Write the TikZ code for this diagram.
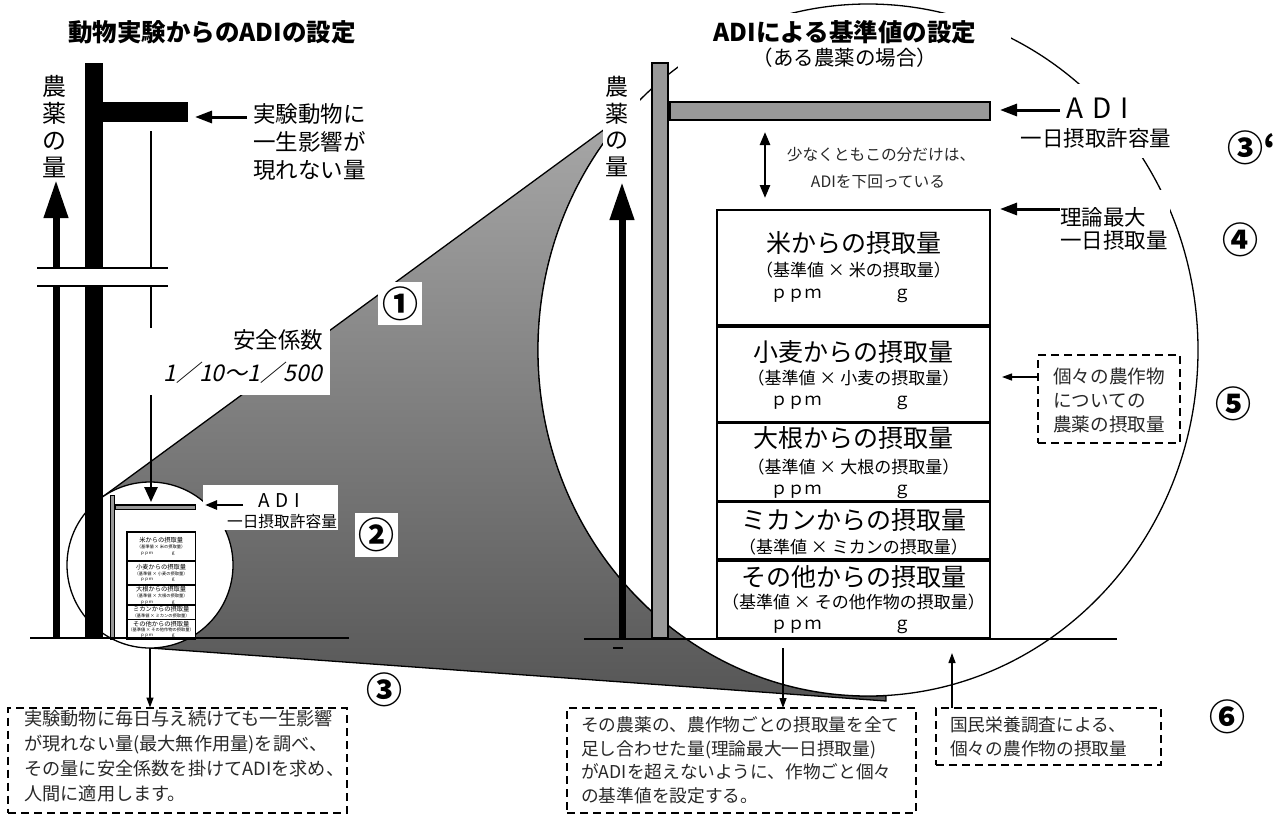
\documentclass[tikz,border=0pt]{standalone}
\usepackage{fontspec}
\setmainfont{Noto Sans CJK JP}
\newfontfamily\jpit{Noto Sans CJK JP}[FakeSlant=0.22]
\usetikzlibrary{arrows.meta,shapes.geometric}
\newcommand{\fsz}[2]{\fontsize{#1pt}{#2pt}\selectfont}
\definecolor{poleg}{RGB}{153,153,153}
\definecolor{shtop}{RGB}{168,168,168}
\definecolor{shbot}{RGB}{86,86,86}
\definecolor{seriftxt}{RGB}{40,40,40}
\tikzset{
  gfill/.style={fill=poleg, draw=black, line width=1.2pt, inner sep=0pt, outer sep=0pt},
  rowbox/.style={draw, line width=1.4pt, fill=white, minimum width=273pt, inner sep=0pt, outer sep=0pt},
  rtitle/.style={font=\fsz{25}{30}, inner sep=0pt},
  rparen/.style={font=\fsz{17}{20}, inner sep=0pt},
  rppm/.style={font=\fsz{17}{20}, inner sep=0pt},
  dbox/.style={draw, line width=2pt, dash pattern=on 8pt off 5pt, inner sep=0pt, outer sep=0pt},
  bigarrow/.style={line width=7pt, -{Triangle[length=38pt,width=23pt]}},
  lblarrow/.style={line width=3pt, -{Triangle[length=17pt,width=12pt]}},
  thinarrow/.style={line width=1.3pt, -{Triangle[length=10pt,width=7pt]}},
  circnum/.style={font=\bfseries\fsz{36}{38}, inner sep=0pt},
  solidbar/.style={fill=black, inner sep=0pt, outer sep=0pt},
}
\newcommand{\adichart}{%
  \node[gfill, minimum width=16pt, minimum height=575pt] (pole) at (660,350.5) {};
  \node[gfill, minimum width=320pt, minimum height=18pt] (adibar) at (830,111) {};
  \node[rowbox, minimum height=115pt] (rice) at (853.5,267.5) {};
  \node[rowbox, minimum height=95pt] (wheat) at (853.5,374.5) {};
  \node[rowbox, minimum height=78pt] (daikon) at (853.5,462) {};
  \node[rowbox, minimum height=57pt] (mikan) at (853.5,530.5) {};
  \node[rowbox, minimum height=77pt] (other) at (853.5,599.5) {};
  \node[rtitle] (riceT) at (853.5,243) {米からの摂取量};
  \node[rparen] (riceP) at (853.5,270) {（基準値 × 米の摂取量）};
  \node[rppm] (riceU) at (796,296) {ｐｐｍ};
  \node[rppm] (riceG) at (902,296) {ｇ};
  \node[rtitle] (wheatT) at (853.5,352) {小麦からの摂取量};
  \node[rparen] (wheatP) at (853.5,378) {（基準値 × 小麦の摂取量）};
  \node[rppm] (wheatU) at (796,403) {ｐｐｍ};
  \node[rppm] (wheatG) at (902,403) {ｇ};
  \node[rtitle] (daikonT) at (853.5,438) {大根からの摂取量};
  \node[rparen] (daikonP) at (853.5,467) {（基準値 × 大根の摂取量）};
  \node[rppm] (daikonU) at (796,492) {ｐｐｍ};
  \node[rppm] (daikonG) at (902,492) {ｇ};
  \node[rtitle] (mikanT) at (853.5,520) {ミカンからの摂取量};
  \node[rparen] (mikanP) at (853.5,547) {（基準値 × ミカンの摂取量）};
  \node[rtitle] (otherT) at (853.5,577) {その他からの摂取量};
  \node[rparen] (otherP) at (853.5,602) {（基準値 × その他作物の摂取量）};
  \node[rppm] (otherU) at (796,627) {ｐｐｍ};
  \node[rppm] (otherG) at (902,627) {ｇ};
}
\begin{document}
\begin{tikzpicture}[x=1pt,y=-1pt]
\useasboundingbox (0,0) rectangle (1279,814);

% shaded cone
\path[draw=black, line width=1.3pt, top color=shtop, bottom color=shbot]
  (101,498) -- plot[domain=223.7:86.9, samples=80] ({868+330*cos(\x)},{350+346*sin(\x)})
  -- (886,701) -- (150,648) -- cycle;

% circles
\node[circle, draw, line width=1.3pt, fill=white, minimum size=166pt, inner sep=0pt, outer sep=0pt] (smallc) at (150,565) {};
\node[ellipse, draw, line width=1.3pt, fill=white, minimum width=660pt, minimum height=692pt, inner sep=0pt, outer sep=0pt] (bigc) at (868,350) {};

% white backings
\fill[white] (678,13) rectangle (1011,68);
\fill[white] (603,74) rectangle (640,180);
\fill[white] (1015,84) rectangle (1176,158);
\fill[white] (1055,190) rectangle (1170,252);
\fill[white] (203,485) rectangle (338,530);

% titles
\node[font=\bfseries\fsz{24.5}{28}, inner sep=0pt] (titleL) at (212,32) {動物実験からのADIの設定};
\node[font=\bfseries\fsz{24.5}{28}, inner sep=0pt] (titleR) at (845,32) {ADIによる基準値の設定};
\node[font=\fsz{20.5}{22}, inner sep=0pt] (subR) at (845,58) {（ある農薬の場合）};

% right chart and its miniature
\adichart
\begin{scope}[shift={(-52.25,479.5)}, scale=0.25, transform shape, name prefix=mini-]
  \adichart
\end{scope}

% right side labels
\node[font=\fsz{23}{26.5}, align=center, inner sep=0pt] (vlabR) at (617,126.5) {農\\薬\\の\\量};
\coordinate (arrR0) at (622,639);
\coordinate (arrR1) at (622,182);
\draw[bigarrow] (arrR0) -- (arrR1);

\node[font=\fsz{28}{30}, anchor=west, inner sep=0pt] (adiR) at (1066,108) {A\hspace{9pt}D\hspace{9pt}I};
\node[font=\fsz{21.5}{26}, inner sep=0pt] (adiRs) at (1096,138.5) {一日摂取許容量};
\coordinate (adiRa) at (1060,110);
\coordinate (adiRb) at (1000,110);
\draw[lblarrow] (adiRa) -- (adiRb);

\node[font=\fsz{21.5}{23}, align=left, anchor=north west, inner sep=0pt] (riron) at (1060,207) {理論最大\\一日摂取量};
\coordinate (rironA) at (1060,209);
\coordinate (rironB) at (1000,209);
\draw[lblarrow] (rironA) -- (rironB);

\coordinate (dblA) at (765,132);
\coordinate (dblB) at (765,198);
\draw[line width=2.5pt, {Triangle[length=13pt,width=10pt]}-{Triangle[length=13pt,width=10pt]}] (dblA) -- (dblB);
\node[font=\fsz{15.7}{18}, text=seriftxt, inner sep=0pt] (sukuna1) at (881,155) {少なくともこの分だけは、};
\node[font=\fsz{15.7}{18}, text=seriftxt, inner sep=0pt] (sukuna2) at (878,182) {ADIを下回っている};

\node[dbox, minimum width=142pt, minimum height=88pt] (kobox) at (1109,399) {};
\node[font=\fsz{18.6}{24}, text=seriftxt, align=left, anchor=north west, inner sep=0pt] (kotxt) at (1053,368) {個々の農作物\\についての\\農薬の摂取量};
\coordinate (koA) at (1038,377);
\coordinate (koB) at (1002,377);
\draw[thinarrow] (koA) -- (koB);

% circled numbers
\node[circnum, fill=white, minimum width=44pt, minimum height=43pt] (n1) at (400,303.5) {①};
\node[circnum, fill=white, minimum width=43pt, minimum height=44pt] (n2) at (376.5,535) {②};
\node[circnum] (n3) at (384,690) {③};
\node[circnum] (n3p) at (1252,148) {③‘};
\node[circnum] (n4) at (1240,240) {④};
\node[circnum] (n5) at (1233,404) {⑤};
\node[circnum] (n6) at (1227,717) {⑥};

% left side
\node[solidbar, minimum width=18pt, minimum height=575pt] (barL) at (94,350.5) {};
\node[solidbar, minimum width=85pt, minimum height=20pt] (noelbar) at (145.5,112) {};
\node[font=\fsz{22.5}{28}, align=left, anchor=north west, inner sep=0pt] (noel) at (253,103) {実験動物に\\一生影響が\\現れない量};
\coordinate (noelA) at (247,117);
\coordinate (noelB) at (195,117);
\draw[lblarrow] (noelA) -- (noelB);
\node[font=\fsz{24}{27}, align=center, inner sep=0pt] (vlabL) at (54,127) {農\\薬\\の\\量};
\coordinate (arrL0) at (56,638);
\coordinate (arrL1) at (56,180);
\draw[bigarrow] (arrL0) -- (arrL1);
\coordinate (thinA) at (151,131);
\coordinate (thinB) at (151,502);
\draw[line width=2.5pt, -{Triangle[length=15pt,width=13pt]}] (thinA) -- (thinB);

% break
\fill[white] (37,268) rectangle (168,286);
\draw[line width=1.3pt] (37,268) -- (168,268);
\draw[line width=1.3pt] (37,286) -- (168,286);

% safety factor label
\fill[white] (140,328) rectangle (330,395);
\node[font=\fsz{22.5}{26}, inner sep=0pt] (anzen) at (278,340) {安全係数};
\node[font=\jpit\fsz{23}{26}, anchor=east, inner sep=0pt] (ratio) at (322,373) {1／10～1／500};

% mini ADI label
\node[font=\fsz{19}{20}, anchor=west, inner sep=0pt] (adiM) at (258,501) {A\hspace{6pt}D\hspace{6pt}I};
\node[font=\fsz{15.7}{18}, inner sep=0pt] (adiMs) at (282,521.5) {一日摂取許容量};
\coordinate (adiMa) at (243,505);
\coordinate (adiMb) at (205,505);
\draw[line width=2.5pt, -{Triangle[length=12pt,width=9pt]}] (adiMa) -- (adiMb);

% baselines
\draw[line width=2.7pt] (30,638) -- (349,638);
\draw[line width=2.7pt] (584,639) -- (1117,639);
\draw[line width=2pt] (613,648) -- (623,648);

% bottom dashed boxes
\node[dbox, minimum width=339pt, minimum height=105pt] (boxL) at (177.5,760) {};
\node[font=\fsz{18.2}{25}, text=seriftxt, align=left, anchor=north west, inner sep=0pt] (txtL) at (24,709.5)
  {実験動物に毎日与え続けても一生影響\\が現れない量(最大無作用量)を調べ、\\その量に安全係数を掛けてADIを求め、\\人間に適用します。};
\node[dbox, minimum width=349pt, minimum height=105pt] (boxM) at (741.5,760.5) {};
\node[font=\fsz{17.7}{23.5}, text=seriftxt, align=left, anchor=north west, inner sep=0pt] (txtM) at (581,716.7)
  {その農薬の、農作物ごとの摂取量を全て\\足し合わせた量(理論最大一日摂取量)\\がADIを超えないように、作物ごと個々\\の基準値を設定する。};
\node[dbox, minimum width=225pt, minimum height=57pt] (boxR) at (1048.5,736.5) {};
\node[font=\fsz{17.7}{23.5}, text=seriftxt, align=left, anchor=north west, inner sep=0pt] (txtR) at (950,716.7)
  {国民栄養調査による、\\個々の農作物の摂取量};

\draw[thinarrow] (smallc.south) -- (smallc.south |- boxL.north);
\coordinate (mA) at (783,648);
\draw[thinarrow] (mA) -- (mA |- boxM.north);
\coordinate (rA) at (952,653);
\draw[thinarrow] (rA |- boxR.north) -- (rA);
\end{tikzpicture}
\end{document}
